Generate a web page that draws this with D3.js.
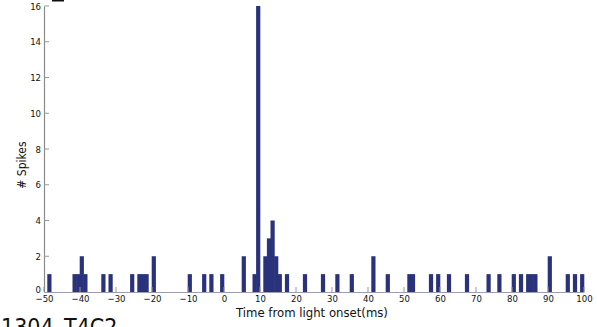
<!DOCTYPE html>
<html><head><meta charset="utf-8">
<script src="https://cdn.jsdelivr.net/npm/d3@7"></script>
<style>
html,body{margin:0;padding:0;background:#fff;overflow:hidden}
text{font-family:"Liberation Sans Narrow","DejaVu Sans Condensed",Arial,sans-serif}
</style></head><body>
<svg id="c" width="597" height="327"></svg>
<script>
// Histogram bins: left edge (ms) of each 1-ms bin that has spikes, and the spike counts
const binStarts = [-49,-42,-41,-40,-39,-34,-32,-26,-24,-23,-22,-20,-10,-6,-4,-1,5,8,9,11,12,13,14,15,17,22,27,31,35,41,45,51,52,57,59,62,67,73,76,80,82,84,85,86,90,95,97,99];
const counts    = [  1,  1,  1,  2,  1,  1,  1,  1,  1,  1,  1,  2,  1, 1, 1, 1,2,1,16, 2, 3, 4, 2, 1, 1, 1, 1, 1, 1, 2, 1, 1, 1, 1, 1, 1, 1, 1, 1, 1, 1, 1, 1, 1, 2, 1, 1, 1];
const xTicks = [-50,-40,-30,-20,-10,0,10,20,30,40,50,60,70,80,90,100];
const yTicks = [0,2,4,6,8,10,12,14,16];
const xLabel = "Time from light onset(ms)";
const yLabel = "# Spikes";
const cellLabel = "1304_T4C2";

const svg = d3.select("#c");
const x = d3.scaleLinear().domain([-50,100]).range([44,584]);
const y = d3.scaleLinear().domain([0,16]).range([292,6]);
const barColor = "#29327a";

const data = binStarts.map((s,i)=>({s, c:counts[i]}));
svg.append("g").selectAll("rect").data(data).join("rect")
  .attr("x", d=>x(d.s)-0.3)
  .attr("width", d=>x(d.s+1)-x(d.s)+0.6)
  .attr("y", d=>y(d.c))
  .attr("height", d=>y(0)-y(d.c))
  .attr("fill", barColor);

// x axis
const xa = svg.append("g").attr("transform","translate(0,292)")
  .call(d3.axisBottom(x).tickValues(xTicks).tickSize(0).tickPadding(3).tickFormat(d3.format("d")));
xa.select(".domain").attr("stroke","#9c9cb4").attr("stroke-width",1.2);
xa.selectAll(".tick text").attr("font-size",9.5).attr("fill","#111");
svg.append("g").selectAll("line").data(xTicks).join("line")
  .attr("x1",d=>x(d)).attr("x2",d=>x(d)).attr("y1",292).attr("y2",287)
  .attr("stroke","#999").attr("stroke-width",1);

// y axis
const ya = svg.append("g").attr("transform","translate(44,0)")
  .call(d3.axisLeft(y).tickValues(yTicks).tickSize(0).tickPadding(3));
ya.select(".domain").attr("stroke","#8a8a8a").attr("stroke-width",1.2);
ya.selectAll(".tick text").attr("font-size",9.5).attr("fill","#111");
ya.selectAll(".tick text").filter(d=>d===0).attr("dy","0.1em");
svg.append("g").selectAll("line").data(yTicks.filter(d=>d>0)).join("line")
  .attr("x1",44).attr("x2",49).attr("y1",d=>y(d)).attr("y2",d=>y(d))
  .attr("stroke","#999").attr("stroke-width",1);

svg.append("text").attr("x",312).attr("y",317).attr("text-anchor","middle")
  .attr("font-size",13).attr("fill","#111").text(xLabel);
svg.append("text").attr("transform","translate(26,165) rotate(-90)").attr("text-anchor","middle")
  .attr("font-size",12).attr("fill","#111").text(yLabel);
svg.append("text").attr("x",1).attr("y",335).attr("font-size",23)
  .attr("fill","#111").attr("font-family","Liberation Sans, Arial, sans-serif").text(cellLabel);
svg.append("rect").attr("x",52).attr("y",0).attr("width",12).attr("height",1.5).attr("fill","#111");
</script>
</body></html>
